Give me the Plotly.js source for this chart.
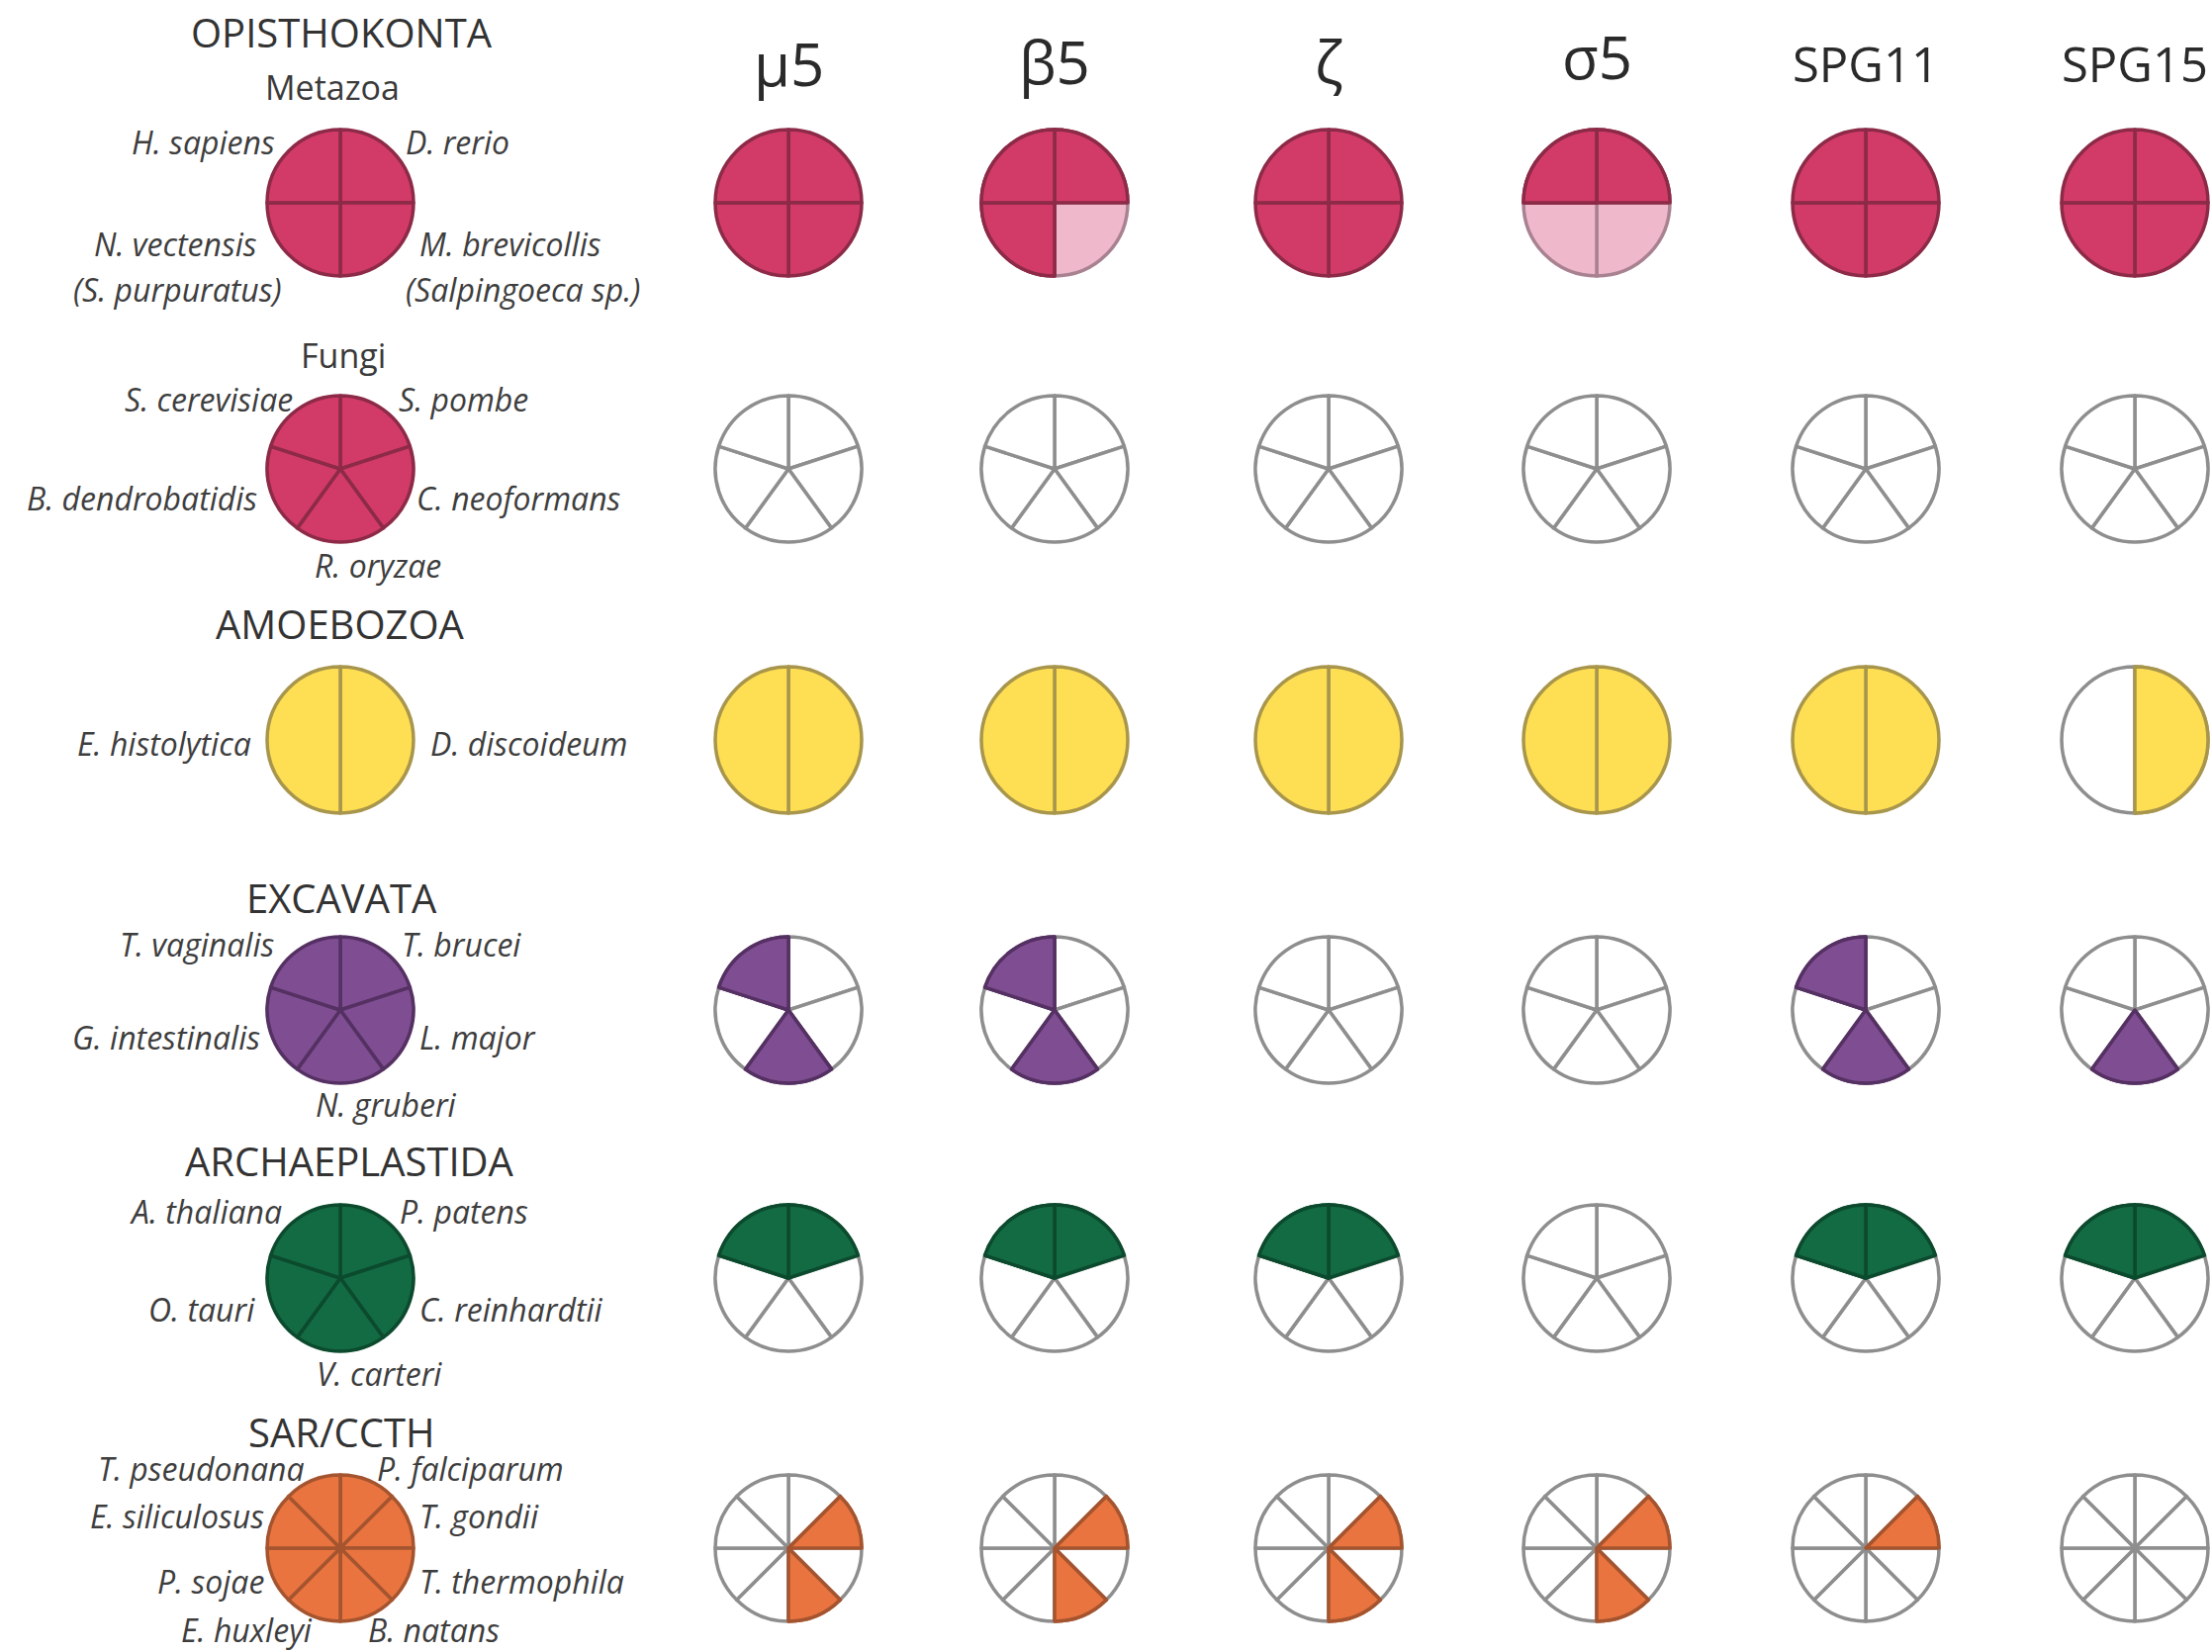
<!DOCTYPE html>
<html>
<head>
<meta charset="utf-8">
<script src="https://cdn.plot.ly/plotly-3.0.1.min.js"></script>
<style>html,body{margin:0;padding:0;background:#fff;}#chart{width:2236px;height:1670px;}</style>
</head>
<body>
<div id="chart"></div>
<script>
// ---------- DATA ----------
const genes = ['μ5', 'β5', 'ζ', 'σ5', 'SPG11', 'SPG15'];
const clades = ['OPISTHOKONTA', 'AMOEBOZOA', 'EXCAVATA', 'ARCHAEPLASTIDA', 'SAR/CCTH'];
const subgroups = ['Metazoa', 'Fungi'];

// species listed in pie order (clockwise from 12 o'clock)
const metazoaSpecies = ['D. rerio', 'M. brevicollis', 'N. vectensis', 'H. sapiens'];
const metazoaAlt = ['', '(Salpingoeca sp.)', '(S. purpuratus)', ''];
const fungiSpecies = ['S. pombe', 'C. neoformans', 'R. oryzae', 'B. dendrobatidis', 'S. cerevisiae'];
const amoebozoaSpecies = ['D. discoideum', 'E. histolytica'];
const excavataSpecies = ['T. brucei', 'L. major', 'N. gruberi', 'G. intestinalis', 'T. vaginalis'];
const archaeplastidaSpecies = ['P. patens', 'C. reinhardtii', 'V. carteri', 'O. tauri', 'A. thaliana'];
const sarSpecies = ['P. falciparum', 'T. gondii', 'T. thermophila', 'B. natans', 'E. huxleyi', 'P. sojae', 'E. siliculosus', 'T. pseudonana'];

// presence per gene (rows follow genes), 2 = present, 1 = partial, 0 = absent
const metazoaPresence = [[2,2,2,2],[2,1,2,2],[2,2,2,2],[2,1,1,2],[2,2,2,2],[2,2,2,2]];
const fungiPresence = [[0,0,0,0,0],[0,0,0,0,0],[0,0,0,0,0],[0,0,0,0,0],[0,0,0,0,0],[0,0,0,0,0]];
const amoebozoaPresence = [[2,2],[2,2],[2,2],[2,2],[2,2],[2,0]];
const excavataPresence = [[0,0,2,0,2],[0,0,2,0,2],[0,0,0,0,0],[0,0,0,0,0],[0,0,2,0,2],[0,0,2,0,0]];
const archaeplastidaPresence = [[2,0,0,0,2],[2,0,0,0,2],[2,0,0,0,2],[0,0,0,0,0],[2,0,0,0,2],[2,0,0,0,2]];
const sarPresence = [[0,2,0,2,0,0,0,0],[0,2,0,2,0,0,0,0],[0,2,0,2,0,0,0,0],[0,2,0,2,0,0,0,0],[0,2,0,0,0,0,0,0],[0,0,0,0,0,0,0,0]];

// ---------- LAYOUT / STYLE ----------
const W = 2236, H = 1670, R = 74;
const refX = 344;
const colX = [797, 1066, 1343, 1614, 1886, 2158];
const rowY = [205, 474, 748, 1021, 1292, 1565];

const palettes = [
  {fill:'#D23B67', line:'#8C2A48', partFill:'#EFB9CB', partLine:'#A98292'},
  {fill:'#D23B67', line:'#8C2A48', partFill:'#EFB9CB', partLine:'#A98292'},
  {fill:'#FEDE52', line:'#A8964C', partFill:'#FEF0A8', partLine:'#A8964C'},
  {fill:'#7F4E92', line:'#553062', partFill:'#C9B2D2', partLine:'#8E7A96'},
  {fill:'#136B43', line:'#0C4A2E', partFill:'#A5CDB8', partLine:'#6E8E7E'},
  {fill:'#E9743F', line:'#A4542F', partFill:'#F5C2A8', partLine:'#A88470'}
];
const absentFill = '#FFFFFF', absentLine = '#8E8E8E';
const NONE = 'rgba(0,0,0,0)';

const rowsSpecies = [metazoaSpecies, fungiSpecies, amoebozoaSpecies, excavataSpecies, archaeplastidaSpecies, sarSpecies];
const rowsPresence = [metazoaPresence, fungiPresence, amoebozoaPresence, excavataPresence, archaeplastidaPresence, sarPresence];

function pieBase(cx, cy, species, fills, lines) {
  return {
    type: 'pie',
    labels: species,
    values: species.map(() => 1),
    sort: false,
    direction: 'clockwise',
    rotation: 0,
    textinfo: 'none',
    hoverinfo: 'label',
    showlegend: false,
    marker: {colors: fills, line: {color: lines, width: 3.5}},
    domain: {
      x: [(cx - R) / W, (cx + R) / W],
      y: [1 - (cy + R) / H, 1 - (cy - R) / H]
    }
  };
}

const traces = [];
function addPie(cx, cy, species, presence, pal) {
  // full pie (all slices)
  const fills = presence.map(p => p === 2 ? pal.fill : p === 1 ? pal.partFill : absentFill);
  const lines = presence.map(p => p === 2 ? pal.line : p === 1 ? pal.partLine : absentLine);
  traces.push(pieBase(cx, cy, species, fills, lines));
  // overlay so that coloured slice borders sit above grey borders
  if (presence.some(p => p === 2) && presence.some(p => p !== 2)) {
    const f2 = presence.map(p => p === 2 ? pal.fill : NONE);
    const l2 = presence.map(p => p === 2 ? pal.line : NONE);
    traces.push(pieBase(cx, cy, species, f2, l2));
  }
}

rowsSpecies.forEach((sp, r) => {
  const pal = palettes[r];
  addPie(refX, rowY[r], sp, sp.map(() => 2), pal);
  genes.forEach((g, c) => {
    addPie(colX[c], rowY[r], sp, rowsPresence[r][c], pal);
  });
});

const FONT = '"Open Sans", "Noto Sans", sans-serif';
const annotations = [];
function ann(text, x, y, anchor, size, italic, color) {
  annotations.push({
    text: italic ? '<i>' + text + '</i>' : text,
    x: x / W, y: 1 - y / H, xref: 'paper', yref: 'paper',
    xanchor: anchor, yanchor: 'middle', showarrow: false,
    font: {family: FONT, size: size, color: color || '#3e3e3e'}
  });
}

// column headers
const headerY = [64, 62, 62, 57, 64, 64];
genes.forEach((g, c) => {
  const greek = c < 4;
  ann(g, colX[c], headerY[c], 'center', greek ? 60 : 49, false, '#2a2a2a');
});

// clade titles
const cladePos = [[345, 33], [344, 630], [345, 907], [353, 1173], [346, 1447]];
clades.forEach((t, i) => ann(t, cladePos[i][0], cladePos[i][1], 'center', 40, false, '#333'));
const subPos = [[336, 88], [347, 359]];
subgroups.forEach((t, i) => ann(t, subPos[i][0], subPos[i][1], 'center', 34, false, '#3a3a3a'));

// species label positions (same order as species arrays): [x, y, anchor]
const labelPos = [
  [[408,143,'left'], [422,246,'left'], [262,246,'right'], [280,143,'right']],
  [[401,404,'left'], [419,504,'left'], [382,571,'center'], [262,504,'right'], [298,404,'right']],
  [[433,751,'left'], [256,751,'right']],
  [[404,954,'left'], [422,1048,'left'], [390,1116,'center'], [265,1048,'right'], [280,954,'right']],
  [[402,1224,'left'], [422,1323,'left'], [383,1388,'center'], [260,1323,'right'], [287,1224,'right']],
  [[379,1484,'left'], [422,1532,'left'], [422,1598,'left'], [370,1647,'left'], [318,1647,'right'], [269,1598,'right'], [269,1532,'right'], [310,1484,'right']]
];
const altPos = [null, [408,293,'left'], [287,293,'right'], null];

rowsSpecies.forEach((sp, r) => {
  sp.forEach((name, i) => {
    const p = labelPos[r][i];
    ann(name, p[0], p[1], p[2], 32, true);
  });
});
metazoaAlt.forEach((t, i) => {
  if (t) ann(t, altPos[i][0], altPos[i][1], altPos[i][2], 32, true);
});

const layout = {
  width: W, height: H,
  margin: {l: 0, r: 0, t: 0, b: 0},
  paper_bgcolor: '#ffffff',
  plot_bgcolor: '#ffffff',
  showlegend: false,
  annotations: annotations
};

Plotly.newPlot('chart', traces, layout, {displayModeBar: false, staticPlot: true});
</script>
</body>
</html>
